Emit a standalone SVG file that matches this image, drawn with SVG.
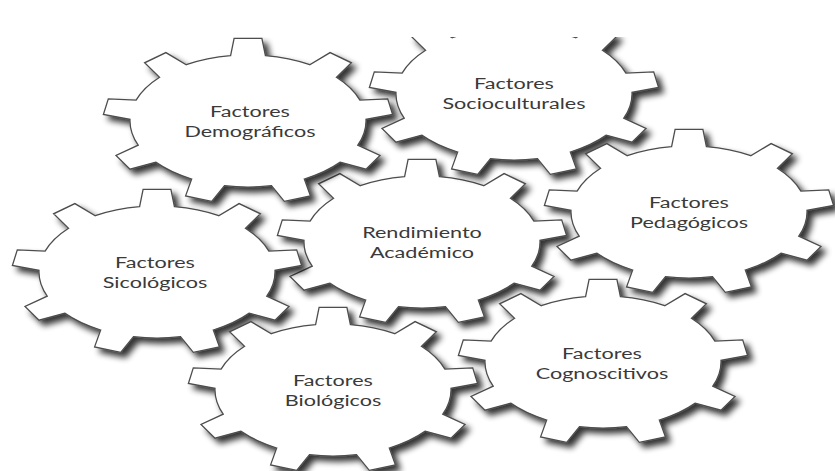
<svg xmlns="http://www.w3.org/2000/svg" xmlns:xlink="http://www.w3.org/1999/xlink" width="835" height="471" viewBox="0 0 835 471">
<style>
.gear{fill:#ffffff;stroke:#4d4d4d;stroke-width:1.3;stroke-linejoin:miter;filter:url(#shadow)}
.lbl{font-family:Lato,"Open Sans",sans-serif;font-size:16px;fill:#3a3a3a;text-anchor:middle}
</style>
<defs>
<filter id="shadow" x="-20%" y="-20%" width="140%" height="140%">
<feGaussianBlur in="SourceAlpha" stdDeviation="3.2"/>
<feOffset dx="5" dy="5" result="b"/>
<feComponentTransfer><feFuncA type="linear" slope="0.8"/></feComponentTransfer>
<feMerge><feMergeNode/><feMergeNode in="SourceGraphic"/></feMerge>
</filter>
<path id="gear" d="M -17.4,-65.3 L -13.9,-82.6 L 13.9,-82.6 L 17.4,-65.3 A 118 66 0 0 1 61.7,-56.3 L 82.1,-68.4 L 103.4,-58.2 L 88.4,-43.7 A 118 66 0 0 1 111.9,-20.9 L 139.7,-22.2 L 144.6,-6.5 L 118,-1.7 A 118 66 0 0 1 109.8,24.2 L 132,34.4 L 118,48.2 L 92.3,41.1 A 118 66 0 0 1 56.3,58 L 62.4,74.9 L 36.3,80.4 L 23.5,64.7 A 118 66 0 0 1 -23.5,64.7 L -36.3,80.4 L -62.4,74.9 L -56.3,58 A 118 66 0 0 1 -92.3,41.1 L -118,48.2 L -132,34.4 L -109.8,24.2 A 118 66 0 0 1 -118,-1.7 L -144.6,-6.5 L -139.7,-22.2 L -111.9,-20.9 A 118 66 0 0 1 -88.4,-43.7 L -103.4,-58.2 L -82.1,-68.4 L -61.7,-56.3 A 118 66 0 0 1 -17.4,-65.3 Z"/>
<clipPath id="crop"><rect x="0" y="37" width="835" height="434"/></clipPath>
</defs>
<rect width="835" height="471" fill="#ffffff"/>
<g id="connectors"/>
<g clip-path="url(#crop)">
<g id="rendimiento">
<use xlink:href="#gear" class="gear" transform="translate(422,242)"/>
<text class="lbl" transform="translate(422,238) scale(1.35,1)">Rendimiento</text>
<text class="lbl" transform="translate(422,257.5) scale(1.35,1)">Académico</text>
</g>
<g id="demograficos">
<use xlink:href="#gear" class="gear" transform="translate(248,121)"/>
<text class="lbl" transform="translate(250,117) scale(1.35,1)">Factores</text>
<text class="lbl" transform="translate(250,136.5) scale(1.35,1)">Demográficos</text>
</g>
<g id="socioculturales">
<use xlink:href="#gear" class="gear" transform="translate(514,94)"/>
<text class="lbl" transform="translate(514,89) scale(1.35,1)">Factores</text>
<text class="lbl" transform="translate(514,108.5) scale(1.35,1)">Socioculturales</text>
</g>
<g id="pedagogicos">
<use xlink:href="#gear" class="gear" transform="translate(689,212)"/>
<text class="lbl" transform="translate(689,208) scale(1.35,1)">Factores</text>
<text class="lbl" transform="translate(689,227.5) scale(1.35,1)">Pedagógicos</text>
</g>
<g id="sicologicos">
<use xlink:href="#gear" class="gear" transform="translate(157,272)"/>
<text class="lbl" transform="translate(155,268) scale(1.35,1)">Factores</text>
<text class="lbl" transform="translate(155,287.5) scale(1.35,1)">Sicológicos</text>
</g>
<g id="biologicos">
<use xlink:href="#gear" class="gear" transform="translate(333,390)"/>
<text class="lbl" transform="translate(333,386) scale(1.35,1)">Factores</text>
<text class="lbl" transform="translate(333,405.5) scale(1.35,1)">Biológicos</text>
</g>
<g id="cognoscitivos">
<use xlink:href="#gear" class="gear" transform="translate(603,362)"/>
<text class="lbl" transform="translate(602,359) scale(1.35,1)">Factores</text>
<text class="lbl" transform="translate(602,378.5) scale(1.35,1)">Cognoscitivos</text>
</g>
</g>
</svg>
